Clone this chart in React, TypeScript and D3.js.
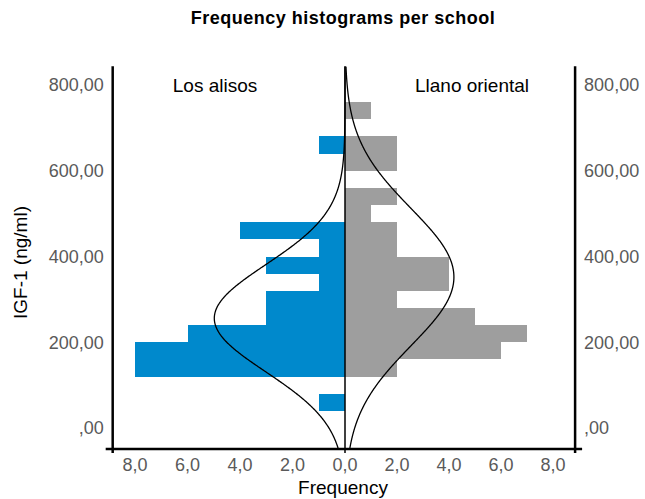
import * as d3 from "d3";

// bin lower edges (ng/ml), bin width 40
const binWidth = 40;
const alisosBins = [40, 120, 160, 200, 240, 280, 320, 360, 400, 440, 640];
const alisosCounts = [1, 8, 8, 6, 3, 3, 1, 3, 1, 4, 1];
const llanoBins = [120, 160, 200, 240, 280, 320, 360, 400, 440, 480, 520, 600, 640, 720];
const llanoCounts = [2, 6, 7, 5, 2, 4, 4, 2, 2, 1, 2, 2, 2, 1];

// fitted normal curves: [n, mean, sd]
const alisosFit = [39, 256, 125];
const llanoFit = [42, 352, 160];

const yTicks = [0, 200, 400, 600, 800];
const xTicks = [0, 2, 4, 6, 8];
const fmtY = (v: number) => (v === 0 ? ",00" : `${v},00`);
const fmtX = (v: number) => `${v},0`;

const W = 645;
const H = 499;
const BLUE = "#0089cc";
const GRAY = "#9e9e9e";
const TICK = "#5a5a5a";
const FONT = "'Liberation Sans', Arial, Helvetica, sans-serif";

export default function App() {
  const yMin = -49;
  const yMax = 844;
  const y = d3.scaleLinear().domain([0, 800]).range([428, 85]);
  const top = y(yMax);
  const bottom = y(yMin);
  // frequency scale, mirrored around the centre line
  const xL = d3.scaleLinear().domain([0, 8]).range([345, 135]);
  const xR = d3.scaleLinear().domain([0, 8]).range([345, 553]);
  const leftEdge = xL(8.85);
  const rightEdge = xR(8.85);

  const pdf = (fit: number[]) => (v: number) => {
    const [n, mu, sd] = fit;
    const z = (v - mu) / sd;
    return (n * binWidth * Math.exp(-0.5 * z * z)) / (sd * Math.sqrt(2 * Math.PI));
  };
  const samples = d3.range(yMin, yMax + 1, 2);
  const leftCurve = d3
    .line<number>()
    .x((v) => xL(pdf(alisosFit)(v)))
    .y((v) => y(v))
    .curve(d3.curveBasis)(samples);
  const rightCurve = d3
    .line<number>()
    .x((v) => xR(pdf(llanoFit)(v)))
    .y((v) => y(v))
    .curve(d3.curveBasis)(samples);

  return (
    <svg
      width={W}
      height={H}
      style={{ position: "absolute", left: 0, top: 0, background: "#fff" }}
      fontFamily={FONT}
    >
      <text x={343} y={24} textAnchor="middle" fontWeight="bold" fontSize={18} letterSpacing={0.5}>
        Frequency histograms per school
      </text>

      <g shapeRendering="crispEdges">
        {alisosBins.map((b, i) => (
          <rect
            key={"a" + b}
            x={xL(alisosCounts[i])}
            y={y(b + binWidth)}
            width={xL(0) - xL(alisosCounts[i])}
            height={y(b) - y(b + binWidth)}
            fill={BLUE}
          />
        ))}
        {llanoBins.map((b, i) => (
          <rect
            key={"l" + b}
            x={xR(0)}
            y={y(b + binWidth)}
            width={xR(llanoCounts[i]) - xR(0)}
            height={y(b) - y(b + binWidth)}
            fill={GRAY}
          />
        ))}
      </g>

      <defs>
        <clipPath id="plot">
          <rect x={leftEdge} y={top} width={rightEdge - leftEdge} height={bottom - top} />
        </clipPath>
      </defs>
      <g clipPath="url(#plot)" fill="none" stroke="#000" strokeWidth={1.3}>
        <path d={leftCurve ?? ""} />
        <path d={rightCurve ?? ""} />
      </g>

      {/* axes */}
      <line x1={xL(0)} x2={xL(0)} y1={top} y2={bottom + 4} stroke="#000" strokeWidth={1.5} />
      <line x1={leftEdge} x2={leftEdge} y1={top} y2={bottom + 4} stroke="#000" strokeWidth={2.5} />
      <line x1={rightEdge} x2={rightEdge} y1={top} y2={bottom + 4} stroke="#000" strokeWidth={2.5} />
      <line x1={leftEdge - 7} x2={rightEdge + 7} y1={bottom} y2={bottom} stroke="#000" strokeWidth={2.5} />

      {yTicks.map((t) => (
        <g key={"y" + t} fontSize={18} fill={TICK}>
          <text x={leftEdge - 9} y={y(t)} dy="0.35em" textAnchor="end">
            {fmtY(t)}
          </text>
          <text x={rightEdge + 9} y={y(t)} dy="0.35em" textAnchor="start">
            {fmtY(t)}
          </text>
        </g>
      ))}

      {xTicks.map((t) => (
        <g key={"x" + t} fontSize={18} fill={TICK} textAnchor="middle">
          <text x={xL(t)} y={471}>
            {fmtX(t)}
          </text>
          {t > 0 && (
            <text x={xR(t)} y={471}>
              {fmtX(t)}
            </text>
          )}
        </g>
      ))}

      <text x={343} y={494} textAnchor="middle" fontSize={19}>
        Frequency
      </text>
      <text
        transform={`translate(27, ${y(400) + 6}) rotate(-90)`}
        textAnchor="middle"
        fontSize={19}
      >
        IGF-1 (ng/ml)
      </text>

      <text x={215} y={92} textAnchor="middle" fontSize={19}>
        Los alisos
      </text>
      <text x={472} y={92} textAnchor="middle" fontSize={19}>
        Llano oriental
      </text>
    </svg>
  );
}
